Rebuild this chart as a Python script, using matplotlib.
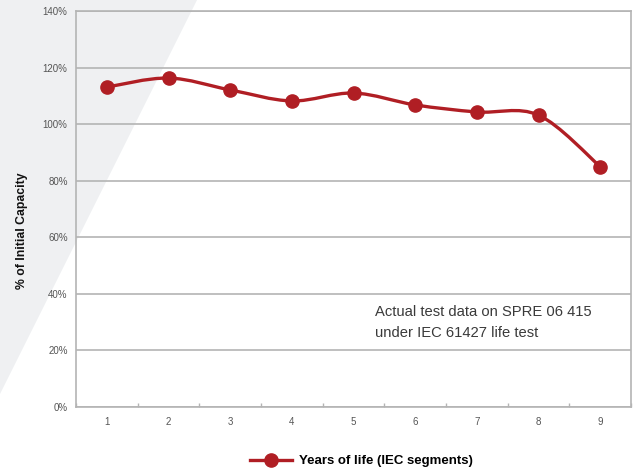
import matplotlib
matplotlib.use('Agg')
import matplotlib.pyplot as plt
import numpy as np
from matplotlib import font_manager
from matplotlib.patches import Polygon, PathPatch
from matplotlib.path import Path

years = [1, 2, 3, 4, 5, 6, 7, 8, 9]
capacity = [113.1, 116.3, 112.1, 108.2, 111.0, 106.8, 104.3, 103.2, 85.0]
y_ticks = [0, 20, 40, 60, 80, 100, 120, 140]
series_label = 'Years of life (IEC segments)'
note = 'Actual test data on SPRE 06 415\nunder IEC 61427 life test'

names = {f.name for f in font_manager.fontManager.ttflist}
font = 'Liberation Sans Narrow' if 'Liberation Sans Narrow' in names else 'Liberation Sans'
plt.rcParams['font.family'] = [font, 'DejaVu Sans']

red = '#b01e24'
grid = '#b4b4b4'

fig = plt.figure(figsize=(6.37, 4.70), dpi=100)

# gray diagonal band on the left
fig.patches.append(Polygon([(0, 1), (197 / 637, 1), (0, 1 - 394 / 470)],
                           closed=True, transform=fig.transFigure,
                           facecolor='#eff0f2', edgecolor='none', zorder=-10))

ax = fig.add_axes([76 / 637, 63 / 470, 555 / 637, 396 / 470])
ax.set_facecolor('none')

# smooth curve through points (catmull-rom style)
x = np.array(years, dtype=float)
y = np.array(capacity, dtype=float)
verts = [(x[0], y[0])]
codes = [Path.MOVETO]
n = len(x)
for i in range(n - 1):
    p0 = np.array([x[max(i - 1, 0)], y[max(i - 1, 0)]])
    p1 = np.array([x[i], y[i]])
    p2 = np.array([x[i + 1], y[i + 1]])
    p3 = np.array([x[min(i + 2, n - 1)], y[min(i + 2, n - 1)]])
    c1 = p1 + (p2 - p0) / 6
    c2 = p2 - (p3 - p1) / 6
    verts += [tuple(c1), tuple(c2), tuple(p2)]
    codes += [Path.CURVE4] * 3
ax.add_patch(PathPatch(Path(verts, codes), facecolor='none', edgecolor=red,
                       lw=2.4, zorder=3, capstyle='round'))
ax.plot(x, y, 'o', color=red, markersize=9.5, zorder=4)

ax.set_xlim(0.5, 9.5)
ax.set_ylim(0, 140)
ax.set_yticks(y_ticks)
ax.set_yticklabels([f'{v}%' for v in y_ticks])
ax.set_xticks(years)
ax.set_xticks(np.arange(0.5, 10, 1), minor=True)
ax.tick_params(axis='both', which='major', length=0, labelsize=7, labelcolor='#555555')
ax.tick_params(axis='y', pad=6)
ax.tick_params(axis='x', pad=7)
ax.tick_params(axis='x', which='minor', direction='in', length=3, color=grid, width=1)
ax.grid(axis='y', color=grid, lw=1.2)
ax.set_axisbelow(True)
for s in ax.spines.values():
    s.set_color(grid)
    s.set_linewidth(1.2)

ax.text(0.539, 0.257, note, transform=ax.transAxes, va='top', ha='left',
        fontsize=10.6, color='#3a3a3a', linespacing=1.6)

fig.text(22 / 637, 1 - 231 / 470, '% of Initial Capacity', rotation=90,
         ha='center', va='center', fontsize=8.8, fontweight='bold', color='#111111')

h, = ax.plot([], [], '-o', color=red, lw=2.4, markersize=9.5)
leg = fig.legend([h], [series_label], loc='center left',
                 bbox_to_anchor=(238 / 637, 1 - 461 / 470), frameon=False,
                 handlelength=3.2, handletextpad=0.5,
                 prop={'family': [font, 'DejaVu Sans'], 'weight': 'bold', 'size': 9.5})

fig.savefig('out.png', dpi=100)
